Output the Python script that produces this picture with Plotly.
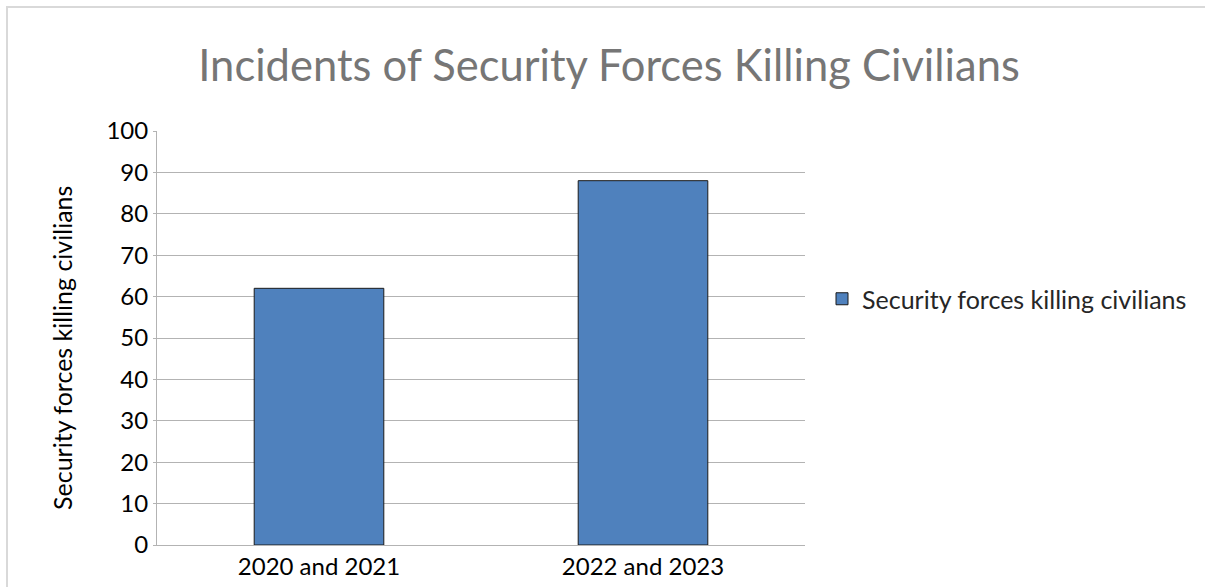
import plotly.graph_objects as go

categories = ["2020 and 2021", "2022 and 2023"]
killings = [62, 88]
series_name = "Security forces killing civilians"
y_ticks = [0, 10, 20, 30, 40, 50, 60, 70, 80, 90, 100]

W, H = 1205, 587
ML, MR, MT, MB = 157, 400, 131, 42
PW, PH = W - ML - MR, H - MT - MB

def px_x(x):
    return (x - ML) / PW

def px_y(y):
    return (H - MB - y) / PH

fig = go.Figure()
fig.add_trace(go.Bar(
    x=categories, y=killings, name=series_name,
    marker=dict(color="#4f81bd", line=dict(color="#1a1a1a", width=1)),
    width=0.4, showlegend=True,
))

fig.update_layout(
    width=W, height=H,
    margin=dict(l=ML, r=MR, t=MT, b=MB, autoexpand=False),
    paper_bgcolor="white", plot_bgcolor="white",
    font=dict(family="Lato, Carlito, sans-serif", size=24, color="black"),
    title=dict(text="Incidents of Security Forces Killing Civilians",
               x=px_x(609), xref="paper", xanchor="center",
               y=1 - 66 / H, yanchor="middle",
               font=dict(size=43.5, color="#767676")),
    xaxis=dict(showgrid=False, showline=True, linecolor="#b3b3b3", linewidth=1,
               ticks="", tickfont=dict(size=24, color="black"), range=[-0.5, 1.5],
               automargin=False),
    yaxis=dict(range=[0, 100], tickvals=y_ticks, showgrid=True, gridcolor="#b3b3b3",
               gridwidth=1, showline=True, linecolor="#b3b3b3", linewidth=1,
               ticks="outside", ticklen=3, tickcolor="#b3b3b3",
               tickfont=dict(size=24, color="black"), zeroline=False, automargin=False),
    annotations=[dict(text=series_name, textangle=-90, showarrow=False,
                      xref="paper", yref="paper", x=px_x(62), y=px_y(348),
                      xanchor="center", yanchor="middle",
                      font=dict(size=25, color="black"))],
    legend=dict(x=px_x(822), y=px_y(299), xanchor="left", yanchor="middle",
                font=dict(size=25, color="#262626"), bgcolor="rgba(0,0,0,0)",
                itemwidth=30),
    bargap=0.6,
    shapes=[dict(type="rect", xref="paper", yref="paper",
                 x0=px_x(7), x1=px_x(1220), y0=px_y(600), y1=px_y(7),
                 line=dict(color="#d9d9d9", width=2), fillcolor="rgba(0,0,0,0)",
                 layer="below")],
)

fig.write_html("out.html")
